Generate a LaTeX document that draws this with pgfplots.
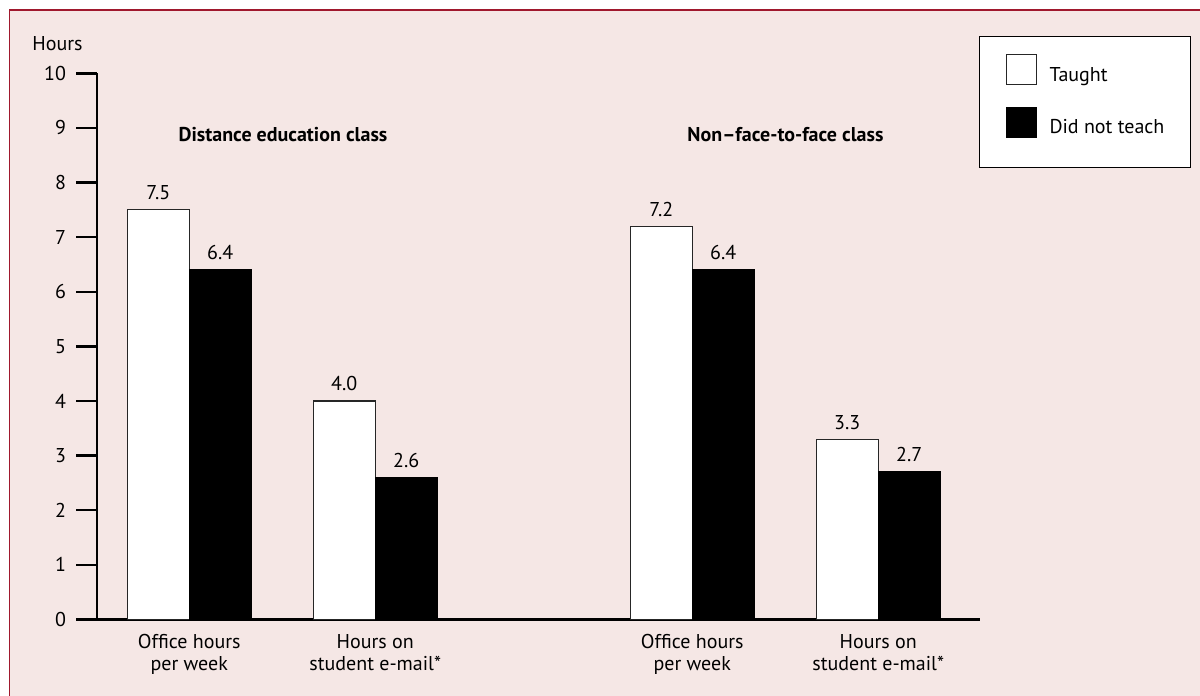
\documentclass[border=0pt]{standalone}
\usepackage{fontspec}
\setmainfont{PT Sans}
\usepackage{pgfplots}
\pgfplotsset{compat=1.18}

\definecolor{bgpink}{HTML}{F5E7E5}
\definecolor{framered}{HTML}{A0182D}

\newcommand{\lbl}{\fontsize{10}{11}\selectfont}

\begin{document}
\begin{tikzpicture}
% page and panel (1 px = 0.5 pt)
\fill[white] (0,0) rectangle (600pt,-348pt);
\fill[bgpink] (4.5pt,-5pt) rectangle (600pt,-348pt);
\draw[framered, line width=0.8pt] (4.5pt,-5pt) -- (600pt,-5pt);
\draw[framered, line width=0.5pt] (4.5pt,-5pt) -- (4.5pt,-348pt);

\begin{axis}[
    at={(48.5pt,-309.65pt)}, anchor=south west,
    scale only axis,
    width=441.5pt, height=273pt,
    ybar=0pt, bar width=31pt,
    xmin=-0.496, xmax=4.251,
    ymin=0, ymax=10,
    axis x line=bottom, axis y line=left,
    axis line style={-, line width=1.2pt, black},
    ytick={0,1,...,10},
    xtick={0,1,2.704,3.704},
    xticklabels={{Office hours\\per week},{Hours on\\student e-mail*},{Office hours\\per week},{Hours on\\student e-mail*}},
    xticklabel style={align=center, yshift=6.5pt},
    yticklabel style={xshift=-1.5pt},
    major x tick style={draw=none},
    major y tick style={line width=1.2pt, black},
    major tick length=10.5pt,
    tick align=outside,
    tick label style={font=\lbl},
    /pgf/number format/assume math mode=true,
    nodes near coords,
    nodes near coords style={font=\lbl, anchor=base, yshift=5pt,
        /pgf/number format/.cd, fixed, zerofill, precision=1},
    clip=false,
    legend cell align=left,
    legend style={at={(0.99887,1.0683)}, anchor=north west,
        fill=white, draw=black, line width=0.5pt,
        inner xsep=13pt, inner ysep=6.5pt,
        /tikz/column sep=6.5pt, /tikz/row sep=0pt,
        nodes={inner sep=0pt, minimum height=26.25pt, font=\lbl}},
    legend image code/.code={\draw[#1, line width=0.5pt] (0pt,-4.5pt) rectangle (15pt,10.5pt);},
]
\addplot[fill=white, draw=black!85, line width=0.6pt] coordinates {
    (0,7.5) (1,4.0) (2.704,7.2) (3.704,3.3)};
\addlegendentry{Taught}
\addplot[fill=black, draw=black, line width=0.6pt] coordinates {
    (0,6.4) (1,2.6) (2.704,6.4) (3.704,2.7)};
\addlegendentry{Did not teach}
\end{axis}

\node[anchor=base west, font=\lbl, inner sep=0pt] at (16pt,-25.35pt) {Hours};
\node[anchor=base, font=\lbl\bfseries, inner sep=0pt] at (141.5pt,-70.5pt) {Distance education class};
\node[anchor=base, font=\lbl\bfseries, inner sep=0pt] at (392.75pt,-70.5pt) {Non–face-to-face class};

\pgfresetboundingbox
\path (0,0) rectangle (600pt,-348pt);
\end{tikzpicture}
\end{document}
